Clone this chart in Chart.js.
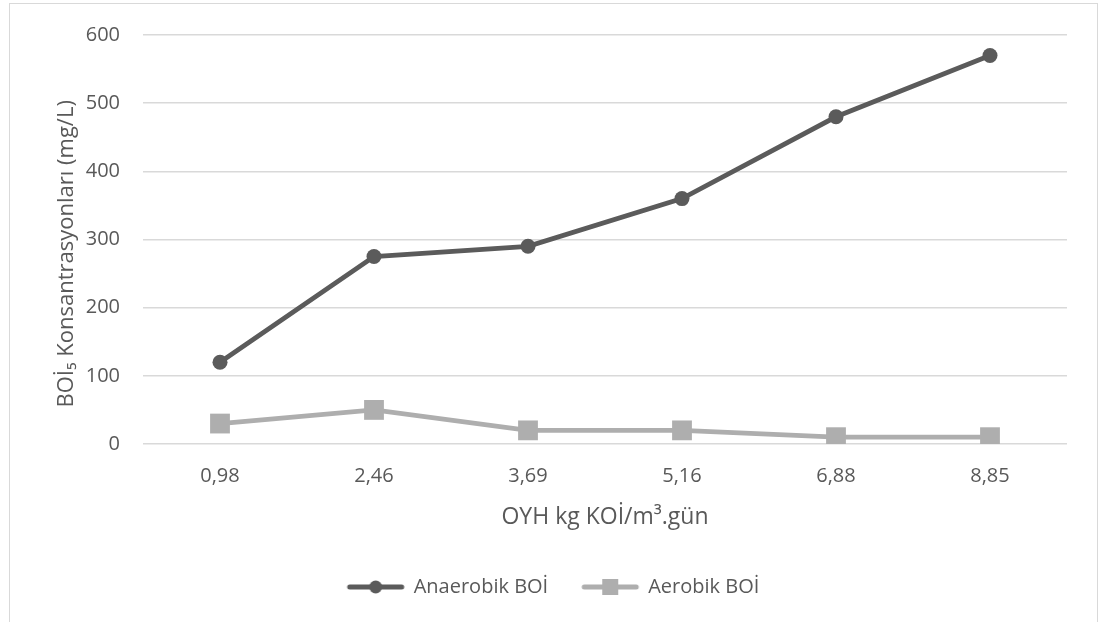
<!DOCTYPE html>
<html>
<head>
<meta charset="utf-8">
<script src="https://cdn.jsdelivr.net/npm/chart.js@4"></script>
<style>
  html, body { margin: 0; padding: 0; background: #fff; overflow: hidden; }
  #frame { position: absolute; left: 9px; top: 3px; width: 1087px; height: 660px; border: 1px solid #d9d9d9; }
  #wrap { position: absolute; left: 0; top: 0; width: 1115px; height: 622px; }
</style>
</head>
<body>
<div id="frame"></div>
<div id="wrap"><canvas id="boiChart" width="1115" height="622"></canvas></div>
<script>
// veriler
const oyhLabels = ['0,98', '2,46', '3,69', '5,16', '6,88', '8,85'];
const anaerobikBoi = [120, 275, 290, 360, 480, 570];
const aerobikBoi = [30, 50, 20, 20, 10, 10];
const yTicks = [0, 100, 200, 300, 400, 500, 600];

const koyu = '#5b5b5b';
const acik = '#aeaeae';
const yazi = '#595959';
const fontAdi = "'Open Sans', 'Liberation Sans', sans-serif";

// legend icin cizgi + isaret resmi
function legendIcon(color, kare) {
  const c = document.createElement('canvas');
  c.width = 66; c.height = 20;
  const ctx = c.getContext('2d');
  ctx.strokeStyle = color;
  ctx.lineWidth = 5;
  ctx.lineCap = 'round';
  ctx.beginPath();
  ctx.moveTo(7, 10); ctx.lineTo(59, 10);
  ctx.stroke();
  ctx.fillStyle = color;
  if (kare) {
    ctx.fillRect(25, 2, 16, 16);
  } else {
    ctx.beginPath();
    ctx.arc(33, 10, 6.5, 0, Math.PI * 2);
    ctx.fill();
  }
  return c;
}
const ikonlar = [legendIcon(koyu, false), legendIcon(acik, true)];

new Chart(document.getElementById('boiChart'), {
  type: 'line',
  data: {
    labels: oyhLabels,
    datasets: [{
      label: 'Anaerobik BOİ',
      data: anaerobikBoi,
      borderColor: koyu,
      backgroundColor: koyu,
      borderWidth: 4.8,
      pointStyle: 'circle',
      pointRadius: 7.5,
      pointBorderWidth: 0,
      tension: 0
    }, {
      label: 'Aerobik BOİ',
      data: aerobikBoi,
      borderColor: acik,
      backgroundColor: acik,
      borderWidth: 4.8,
      pointStyle: 'rect',
      pointRadius: 14,
      pointBorderWidth: 0,
      tension: 0
    }]
  },
  options: {
    responsive: false,
    animation: false,
    layout: { padding: { left: 40, right: 48, top: 28, bottom: 15 } },
    scales: {
      x: {
        offset: true,
        grid: { display: false },
        border: { display: false },
        ticks: { color: yazi, font: { family: fontAdi, size: 20 }, padding: 12, maxRotation: 0 },
        title: {
          display: true,
          text: 'OYH kg KOİ/m³.gün',
          color: yazi,
          font: { family: fontAdi, size: 23 },
          padding: { top: 0, bottom: 12 }
        },
        afterFit: s => { s.height = 99; }
      },
      y: {
        min: 0,
        max: 600,
        afterBuildTicks: s => { s.ticks = yTicks.map(v => ({ value: v })); },
        grid: { color: '#d9d9d9', lineWidth: 1.5, drawTicks: false },
        border: { display: false },
        ticks: { color: yazi, font: { family: fontAdi, size: 20 }, padding: 23 },
        title: {
          display: true,
          text: 'BOİ₅ Konsantrasyonları (mg/L)     ',
          color: yazi,
          font: { family: fontAdi, size: 22 },
          padding: { top: 14, bottom: 0 }
        },
        afterFit: s => { s.width = 103; }
      }
    },
    plugins: {
      legend: {
        position: 'bottom',
        labels: {
          color: yazi,
          font: { family: fontAdi, size: 20 },
          usePointStyle: true,
          pointStyleWidth: 56,
          padding: 34,
          generateLabels: chart => {
            const items = Chart.defaults.plugins.legend.labels.generateLabels(chart);
            items.forEach((it, i) => { it.pointStyle = ikonlar[i]; });
            return items;
          }
        }
      },
      tooltip: { enabled: false }
    }
  }
});
</script>
</body>
</html>
